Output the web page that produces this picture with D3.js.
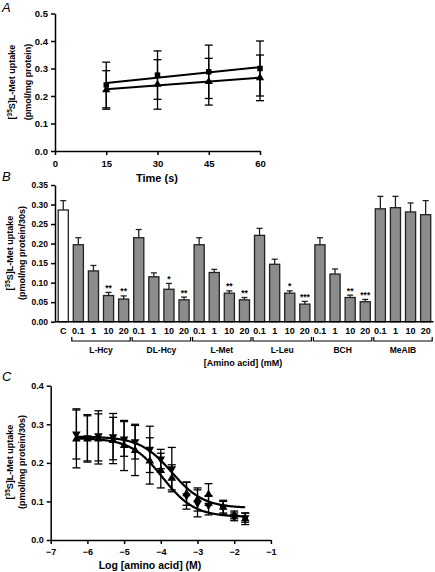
<!DOCTYPE html>
<html><head><meta charset="utf-8">
<script src="https://cdn.jsdelivr.net/npm/d3@7"></script>
<style>body{margin:0;background:#fff}svg{display:block;font-family:"Liberation Sans",Arial,sans-serif}</style>
</head><body><svg id="c" width="435" height="572"></svg>
<script>
// ---------- Panel A data ----------
const timeA = [15, 30, 45, 60];
const sqMean = [0.240, 0.276, 0.288, 0.300];
const sqErr  = [0.083, 0.088, 0.097, 0.100];
const triMean = [0.222, 0.242, 0.252, 0.266];
const triErr  = [0.070, 0.090, 0.085, 0.083];
const ticksAx = [0, 15, 30, 45, 60];
const ticksAy = [0, 0.1, 0.2, 0.3, 0.4, 0.5];

// ---------- Panel B data ----------
const catB = ["C","0.1","1","10","20","0.1","1","10","20","0.1","1","10","20","0.1","1","10","20","0.1","1","10","20","0.1","1","10","20"];
const valB = [0.286, 0.197,0.130,0.067,0.058, 0.215,0.115,0.083,0.056, 0.197,0.126,0.073,0.056, 0.221,0.147,0.073,0.045, 0.197,0.122,0.062,0.051, 0.289,0.292,0.281,0.274];
const errB = [0.024, 0.018,0.014,0.008,0.008, 0.021,0.010,0.015,0.007, 0.018,0.008,0.006,0.006, 0.018,0.013,0.006,0.007, 0.018,0.013,0.006,0.006, 0.032,0.029,0.023,0.036];
const starB = ["", "","","**","**", "","","*","**", "","","**","**", "","","*","***", "","","**","***", "","","",""];
const groupsB = ["L-Hcy","DL-Hcy","L-Met","L-Leu","BCH","MeAIB"];
const ticksBy = [0,0.05,0.10,0.15,0.20,0.25,0.30,0.35];

// ---------- Panel C data ----------
const logC = [-6.3,-6.0,-5.7,-5.3,-5.0,-4.7,-4.3,-4.0,-3.7,-3.3,-3.0,-2.7,-2.3,-2.0,-1.7];
const upMean = [0.262,0.262,0.262,0.258,0.245,0.232,0.205,0.180,0.160,0.120,0.105,0.118,0.085,0.065,0.055];
const upErr  = [0.075,0.060,0.065,0.060,0.065,0.065,0.060,0.045,0.035,0.030,0.030,0.028,0.015,0.010,0.015];
const dnMean = [0.275,0.265,0.270,0.268,0.262,0.255,0.235,0.210,0.185,0.115,0.095,0.090,0.085,0.060,0.058];
const dnErr  = [0.065,0.060,0.065,0.060,0.045,0.045,0.060,0.025,0.055,0.035,0.035,0.025,0.018,0.010,0.012];
// fitted sigmoid parameters: [top, bottom, logIC50, hill]
const fitUp = [0.264, 0.060, -3.95, 1.0];
const fitDn = [0.268, 0.083, -3.70, 1.0];
const ticksCx = [-7,-6,-5,-4,-3,-2,-1];
const ticksCy = [0,0.1,0.2,0.3,0.4];

const svg = d3.select("#c");
const K = "#000";

function ylabel(g, x1, x2, cy, l2) {
  const t1 = g.append("text").attr("transform",`translate(${x1},${cy}) rotate(-90)`)
    .attr("text-anchor","middle").attr("font-size",9).attr("font-weight","bold");
  t1.append("tspan").text("[");
  t1.append("tspan").attr("font-size",6.5).attr("dy",-3.5).text("35");
  t1.append("tspan").attr("dy",3.5).text("S]L-Met uptake");
  g.append("text").attr("transform",`translate(${x2},${cy}) rotate(-90)`)
    .attr("text-anchor","middle").attr("font-size",9).attr("font-weight","bold").text(l2);
}
function panelLabel(t,x,y){
  svg.append("text").attr("x",x).attr("y",y).attr("font-size",13).attr("font-style","italic").text(t);
}
function styleAxis(g, fs){
  g.selectAll("path,line").attr("stroke",K).attr("stroke-width",1.5);
  g.selectAll("text").attr("font-size",fs).attr("font-weight","bold").attr("fill",K)
    .attr("font-family","'Liberation Sans',Arial,sans-serif");
}

// ================= Panel A =================
{
  const x = d3.scaleLinear().domain([0,60]).range([55,260]);
  const y = d3.scaleLinear().domain([0,0.5]).range([151,13.5]);
  const g = svg.append("g");
  const ay = g.append("g").attr("transform","translate(55,0)")
    .call(d3.axisLeft(y).tickValues(ticksAy).tickFormat(d3.format(".1f")).tickSize(4).tickSizeOuter(0));
  styleAxis(ay, 9.5);
  const ax = g.append("g").attr("transform","translate(0,151)")
    .call(d3.axisBottom(x).tickValues(ticksAx).tickSize(4).tickSizeOuter(0));
  styleAxis(ax, 9.5);
  ax.selectAll("text").attr("dy","0.9em");
  g.append("text").attr("x",157).attr("y",182).attr("text-anchor","middle")
    .attr("font-size",11).attr("font-weight","bold").text("Time (s)");
  ylabel(g, 15, 31, 82, "(pmol/mg protein)");
  panelLabel("A",2,12);

  function series(mean, err, sym){
    const mx = d3.mean(timeA), my = d3.mean(mean);
    const b = d3.sum(timeA,(t,i)=>(t-mx)*(mean[i]-my))/d3.sum(timeA,t=>(t-mx)*(t-mx));
    const a = my - b*mx;
    g.append("line").attr("x1",x(15)).attr("x2",x(60)).attr("y1",y(a+b*15)).attr("y2",y(a+b*60))
      .attr("stroke",K).attr("stroke-width",2);
    timeA.forEach((t,i)=>{
      const cx=x(t), y1=y(mean[i]+err[i]), y2=y(mean[i]-err[i]);
      g.append("line").attr("x1",cx).attr("x2",cx).attr("y1",y1).attr("y2",y2).attr("stroke",K).attr("stroke-width",1.3);
      [y1,y2].forEach(yy=>g.append("line").attr("x1",cx-4).attr("x2",cx+4).attr("y1",yy).attr("y2",yy).attr("stroke",K).attr("stroke-width",1.3));
      g.append("path").attr("d",d3.symbol().type(sym).size(30)())
        .attr("transform",`translate(${cx},${y(mean[i])})`).attr("fill",K);
    });
  }
  series(sqMean, sqErr, d3.symbolSquare);
  series(triMean, triErr, d3.symbolTriangle);
}

// ================= Panel B =================
{
  const idx = d3.range(catB.length);
  const x = d3.scaleBand().domain(idx).range([55.7,433.2]).paddingInner(0.33).paddingOuter(0.165);
  const y = d3.scaleLinear().domain([0,0.35]).range([321.7,185]);
  const g = svg.append("g");
  idx.forEach(i=>{
    const bx = x(i), bw = x.bandwidth();
    const cx = bx+bw/2;
    g.append("line").attr("x1",cx).attr("x2",cx).attr("y1",y(valB[i])).attr("y2",y(valB[i]+errB[i])).attr("stroke","#222").attr("stroke-width",1.3);
    g.append("line").attr("x1",cx-3).attr("x2",cx+3).attr("y1",y(valB[i]+errB[i])).attr("y2",y(valB[i]+errB[i])).attr("stroke","#222").attr("stroke-width",1.3);
    g.append("rect").attr("x",bx).attr("width",bw).attr("y",y(valB[i])).attr("height",y(0)-y(valB[i]))
      .attr("fill",i===0?"#fff":"#8c8c8c").attr("stroke","#222").attr("stroke-width",1.3);
    if (starB[i]) g.append("text").attr("x",cx).attr("y",y(valB[i]+errB[i])-1.5).attr("text-anchor","middle")
      .attr("font-size",8.5).attr("font-weight","bold").text(starB[i]);
  });
  const ay = g.append("g").attr("transform","translate(55,0)")
    .call(d3.axisLeft(y).tickValues(ticksBy).tickFormat(d3.format(".2f")).tickSize(4).tickSizeOuter(0));
  styleAxis(ay, 8.5);
  g.append("line").attr("x1",55).attr("x2",433.5).attr("y1",y(0)).attr("y2",y(0)).attr("stroke",K).attr("stroke-width",1.5);
  idx.forEach(i=>{
    g.append("text").attr("x",x(i)+x.bandwidth()/2).attr("y",334).attr("text-anchor","middle")
      .attr("font-size",9).attr("font-weight","bold").text(catB[i]);
  });
  groupsB.forEach((name,gi)=>{
    const i0 = 1+gi*4, i1 = i0+3;
    const x0 = x(i0)-1.5, x1 = x(i1)+x.bandwidth()+1.5, yb = 341;
    g.append("path").attr("d",`M${x0},${yb-4}V${yb}H${x1}V${yb-4}`).attr("fill","none").attr("stroke",K).attr("stroke-width",1.2);
    g.append("text").attr("x",(x0+x1)/2).attr("y",353).attr("text-anchor","middle")
      .attr("font-size",8.5).attr("font-weight","bold").text(name);
  });
  g.append("text").attr("x",243).attr("y",366).attr("text-anchor","middle")
    .attr("font-size",9).attr("font-weight","bold").text("[Amino acid] (mM)");
  ylabel(g, 13, 25, 253, "(pmol/mg protein/30s)");
  panelLabel("B",2,181);
}

// ================= Panel C =================
{
  const x = d3.scaleLinear().domain([-7,-1]).range([50.7,270.9]);
  const y = d3.scaleLinear().domain([0,0.4]).range([540,385.7]);
  const g = svg.append("g");
  const ay = g.append("g").attr("transform","translate(50.7,0)")
    .call(d3.axisLeft(y).tickValues(ticksCy).tickFormat(d3.format(".1f")).tickSize(4).tickSizeOuter(0));
  styleAxis(ay, 9);
  const ax = g.append("g").attr("transform","translate(0,540)")
    .call(d3.axisBottom(x).tickValues(ticksCx).tickFormat(d3.format("d")).tickSize(4).tickSizeOuter(0));
  styleAxis(ax, 9);
  ax.selectAll("text").attr("dy","0.9em");
  g.append("text").attr("x",150).attr("y",569).attr("text-anchor","middle")
    .attr("font-size",10.5).attr("font-weight","bold").text("Log [amino acid] (M)");
  ylabel(g, 13, 25, 462, "(pmol/mg protein/30s)");
  panelLabel("C",2,381);

  function fitLine(p){
    const xs = d3.range(-6.3,-1.69,0.02);
    const f = v => p[1] + (p[0]-p[1])/(1+Math.pow(10,(v-p[2])*p[3]));
    g.append("path").attr("d",d3.line().x(v=>x(v)).y(v=>y(f(v)))(xs))
      .attr("fill","none").attr("stroke",K).attr("stroke-width",2.2);
  }
  function pts(mean, err, sym, rot){
    logC.forEach((l,i)=>{
      const cx=x(l), y1=y(mean[i]+err[i]), y2=y(mean[i]-err[i]);
      g.append("line").attr("x1",cx).attr("x2",cx).attr("y1",y1).attr("y2",y2).attr("stroke",K).attr("stroke-width",1.3);
      [y1,y2].forEach(yy=>g.append("line").attr("x1",cx-4).attr("x2",cx+4).attr("y1",yy).attr("y2",yy).attr("stroke",K).attr("stroke-width",1.3));
      g.append("path").attr("d",d3.symbol().type(sym).size(32)())
        .attr("transform",`translate(${cx},${y(mean[i])}) rotate(${rot})`).attr("fill",K);
    });
  }
  fitLine(fitUp); fitLine(fitDn);
  pts(upMean, upErr, d3.symbolTriangle, 0);
  pts(dnMean, dnErr, d3.symbolTriangle, 180);
}
</script></body></html>
